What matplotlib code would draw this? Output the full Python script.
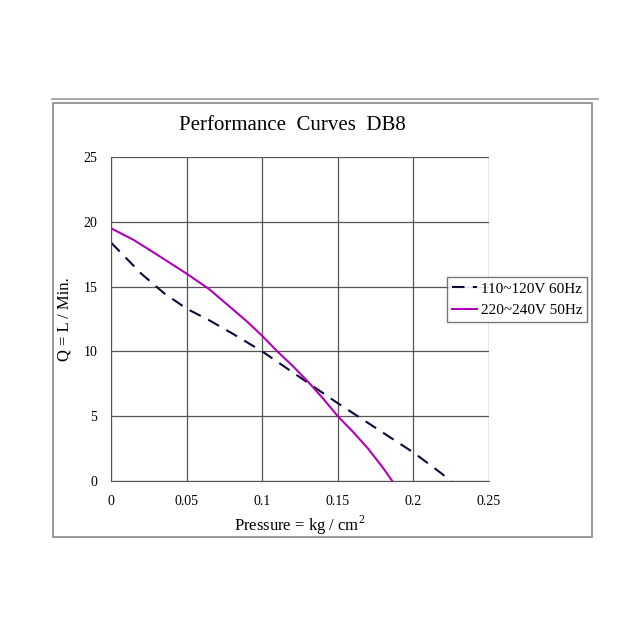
import matplotlib
matplotlib.use("Agg")
import matplotlib.pyplot as plt
from matplotlib.patches import Rectangle
from matplotlib.lines import Line2D

x60 = [0, 0.01, 0.02, 0.035, 0.05, 0.065, 0.08, 0.1, 0.115, 0.13, 0.15, 0.175, 0.2, 0.215, 0.225]
y60 = [18.4, 17.2, 16.0, 14.5, 13.3, 12.4, 11.4, 10.0, 8.8, 7.6, 6.0, 4.1, 2.2, 0.9, 0.0]
x50 = [0, 0.015, 0.03, 0.05, 0.065, 0.08, 0.09, 0.1, 0.11, 0.12, 0.13, 0.14, 0.15, 0.16, 0.17, 0.18, 0.186]
y50 = [19.5, 18.6, 17.5, 16.0, 14.8, 13.3, 12.3, 11.2, 10.0, 8.9, 7.7, 6.4, 5.0, 3.8, 2.5, 1.0, 0.0]
labels = ["110~120V 60Hz", "220~240V 50Hz"]

plt.rcParams["font.family"] = "Liberation Serif"
fig = plt.figure(figsize=(6.4, 6.4), dpi=100)
fig.patches.append(Rectangle((53/640, 1-537/640), 539/640, 434/640, transform=fig.transFigure,
                             fill=False, edgecolor="#888888", lw=1.2))
fig.lines.append(Line2D([52/640, 598/640], [1-99/640]*2, transform=fig.transFigure, color="#999999", lw=1.2))

ax = fig.add_axes([111/640, 1-481/640, 378/640, 324/640])
ax.plot(x60, y60, color="#0a0a3a", ls=(0, (6, 4)), lw=1.5, label=labels[0])
ax.plot(x50, y50, color="#b000b8", lw=1.5, label=labels[1])
ax.set_xlim(0, 0.25); ax.set_ylim(0, 25)
ax.set_xticks([0, 0.05, 0.1, 0.15, 0.2, 0.25])
ax.set_xticklabels(["0", "0.05", "0.1", "0.15", "0.2", "0.25"])
ax.set_yticks([0, 5, 10, 15, 20, 25])
ax.grid(True, color="#555555", lw=0.9)
for s in ["top", "right"]:
    ax.spines[s].set_visible(False)
for s in ["left", "bottom"]:
    ax.spines[s].set_color("#555555")
ax.tick_params(length=0, labelsize=10, pad=10)
ax.set_xlabel("Pressure = kg / cm$^{\\mathregular{2}}$", fontsize=12, labelpad=4)
ax.set_ylabel("Q = L / Min.", fontsize=12, labelpad=8)
fig.text(292/640, 1-125/640, "Performance  Curves  DB8", fontsize=15, ha="center", va="center")
leg = ax.legend(loc="center left", bbox_to_anchor=(0.87, 0.56), fontsize=11, frameon=True,
                fancybox=False, edgecolor="#555555", handlelength=1.6, borderpad=0.3, handletextpad=0.3)
leg.get_frame().set_linewidth(1)
fig.savefig("out.png", dpi=100)
